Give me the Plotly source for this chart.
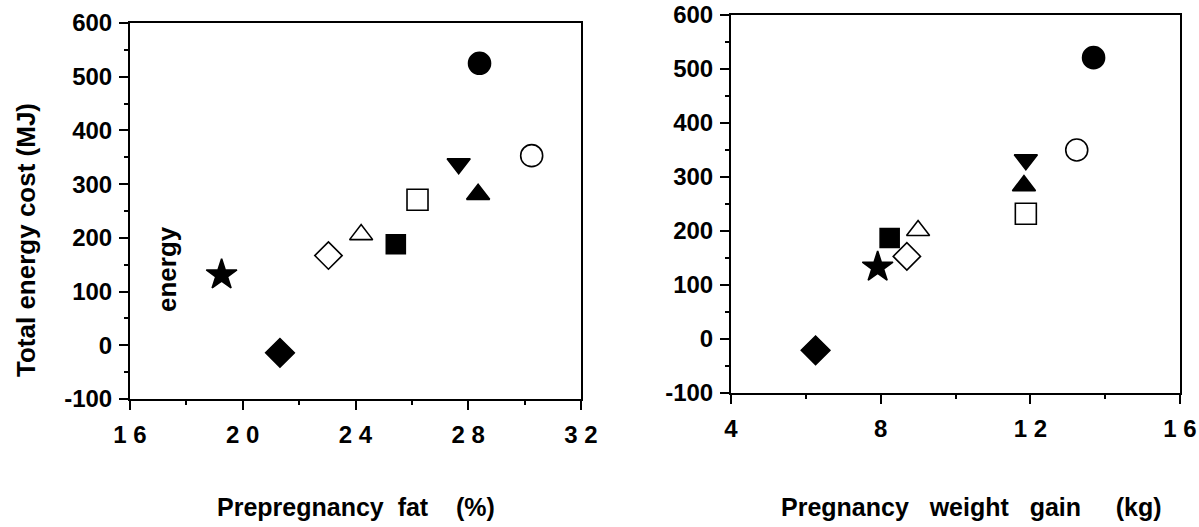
import plotly.graph_objects as go

# Data
symbols = ["circle", "circle-open", "triangle-down", "triangle-up", "square-open",
           "triangle-up-open", "square", "diamond-open", "star", "diamond"]
fat = [28.4, 30.25, 27.66, 28.35, 26.2, 24.2, 25.43, 23.04, 19.25, 21.32]
gain = [13.69, 13.24, 11.88, 11.83, 11.88, 9.0, 8.24, 8.70, 7.92, 6.26]
energy_fat = [525, 353, 338, 281, 271, 206, 188, 167, 131, -14]
energy_gain = [521, 350, 332, 284, 232, 201, 187, 153, 133, -21]

x1_ticks = [16, 20, 24, 28, 32]
x1_labels = ["1 6", "2 0", "2 4", "2 8", "3 2"]
x2_ticks = [4, 8, 12, 16]
x2_labels = ["4", "8", "1 2", "1 6"]
y_ticks = [-100, 0, 100, 200, 300, 400, 500, 600]
y_labels = ["-100", "0", "100", "200", "300", "400", "500", "600"]

FONT = "Liberation Sans, Arial, sans-serif"

fig = go.Figure()

sizes = [22, 22, 20, 20, 21, 20, 19, 21, 23, 22]
for i in range(len(symbols)):
    fig.add_trace(go.Scatter(x=[fat[i]], y=[energy_fat[i]], mode="markers",
                             marker=dict(symbol=symbols[i], size=sizes[i], color="black",
                                         line=dict(color="black", width=1.6)),
                             xaxis="x", yaxis="y", showlegend=False))
    fig.add_trace(go.Scatter(x=[gain[i]], y=[energy_gain[i]], mode="markers",
                             marker=dict(symbol=symbols[i], size=sizes[i], color="black",
                                         line=dict(color="black", width=1.6)),
                             xaxis="x2", yaxis="y2", showlegend=False))

axis_common = dict(showline=True, linecolor="black", linewidth=2, mirror=True,
                   ticks="outside", ticklen=9, tickwidth=2, tickcolor="black",
                   showgrid=False, zeroline=False, automargin=False,
                   tickfont=dict(family=FONT, size=24, color="black", weight="bold"))
minor_x = dict(dtick=2, ticklen=4, ticks="outside", tickcolor="black", tickwidth=1.5)
minor_y = dict(dtick=50, ticklen=4, ticks="outside", tickcolor="black", tickwidth=1.5)

fig.update_layout(
    width=1199, height=527, margin=dict(l=0, r=0, t=0, b=0, autoexpand=False),
    paper_bgcolor="white", plot_bgcolor="white",
    xaxis=dict(domain=[130/1199, 581/1199], range=[16, 32], tickvals=x1_ticks, ticktext=x1_labels,
               anchor="y", minor=minor_x, ticklabelstandoff=4, **axis_common),
    yaxis=dict(domain=[(527-399)/527, (527-23)/527], range=[-100, 600], tickvals=y_ticks, ticktext=y_labels,
               anchor="x", minor=minor_y, ticklabelstandoff=2, **axis_common),
    xaxis2=dict(domain=[731/1199, 1180/1199], range=[4, 16], tickvals=x2_ticks, ticktext=x2_labels,
                anchor="y2", minor=minor_x, ticklabelstandoff=4, **axis_common),
    yaxis2=dict(domain=[(527-393)/527, (527-15)/527], range=[-100, 600], tickvals=y_ticks, ticktext=y_labels,
                anchor="x2", minor=minor_y, ticklabelstandoff=2, **axis_common),
)

NB = "\u00a0"
title_font = dict(family=FONT, size=25, color="black", weight="bold")
fig.add_annotation(text="Total energy cost (MJ)", x=26/1199, y=(527-240)/527, xref="paper", yref="paper",
                   xanchor="center", yanchor="middle", textangle=-90, showarrow=False,
                   font=dict(family=FONT, size=26, color="black", weight="bold"))
fig.add_annotation(text="energy", x=167/1199, y=(527-269)/527, xref="paper", yref="paper",
                   xanchor="center", yanchor="middle", textangle=-90, showarrow=False,
                   font=dict(family=FONT, size=26, color="black", weight="bold"))
fig.add_annotation(text="Prepregnancy" + NB * 2 + "fat" + NB * 4 + "(%)", x=356/1199, y=(527-507)/527,
                   xref="paper", yref="paper", xanchor="center", yanchor="middle",
                   showarrow=False, font=title_font)
fig.add_annotation(text="Pregnancy" + NB * 3 + "weight" + NB * 3 + "gain" + NB * 5 + "(kg)",
                   x=971/1199, y=(527-507)/527, xref="paper", yref="paper",
                   xanchor="center", yanchor="middle", showarrow=False, font=title_font)

fig.write_html("out.html")
